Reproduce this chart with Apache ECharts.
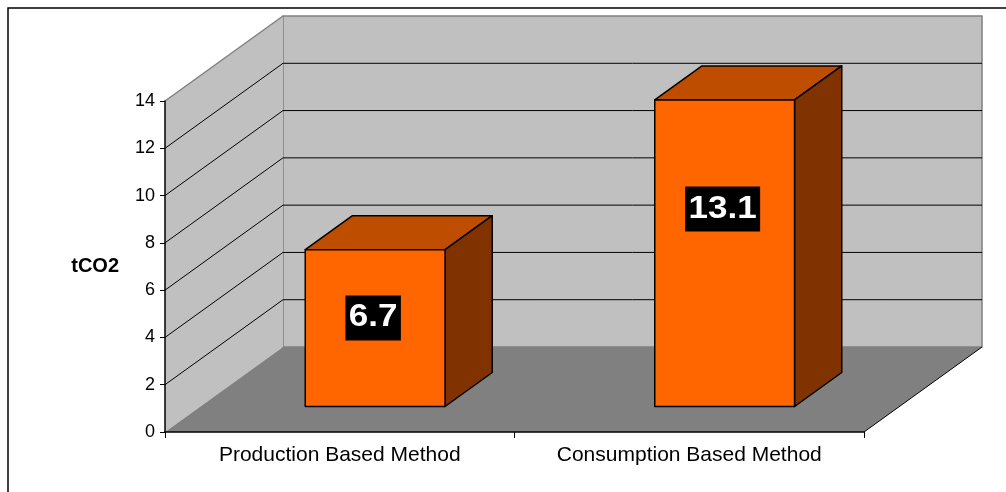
<!DOCTYPE html>
<html>
<head>
<meta charset="utf-8">
<script src="https://cdn.jsdelivr.net/npm/echarts@6/dist/echarts.min.js"></script>
<style>
  html, body { margin: 0; padding: 0; background: #ffffff; }
  #chart { width: 1006px; height: 492px; }
</style>
</head>
<body>
<div id="chart"></div>
<script>
// Emissions per method (tonnes of CO2)
const categories = ['Production Based Method', 'Consumption Based Method'];
const values = [6.7, 13.1];
const axisName = 'tCO2';
const yMin = 0;
const yMax = 14;
const yStep = 2;

// Pseudo-3D look: the back planes sit behind the front plane by this pixel offset
const DEPTH_X = 118;
const DEPTH_Y = -85;
// Bars start at 30% of the depth and are 40% deep
const BAR_FRONT = 0.3;
const BAR_DEPTH = 0.4;

const FONT = '"Liberation Sans", Arial, sans-serif';

const chart = echarts.init(document.getElementById('chart'), null, { renderer: 'canvas' });

// Side wall, back wall, floor and their gridlines
function renderWalls(params, api) {
  const cs = params.coordSys;
  const x0 = cs.x;
  const x1 = cs.x + cs.width;
  const yb = api.coord([0, yMin])[1];
  const yt = api.coord([0, yMax])[1];
  const dx = DEPTH_X, dy = DEPTH_Y;
  const children = [];

  children.push({
    type: 'rect',
    shape: { x: x0 + dx, y: yt + dy, width: x1 - x0, height: yb - yt },
    style: { fill: '#c0c0c0', stroke: '#808080', lineWidth: 1.5 }
  });
  children.push({
    type: 'polygon',
    shape: { points: [[x0, yb], [x0, yt], [x0 + dx, yt + dy], [x0 + dx, yb + dy]] },
    style: { fill: '#c0c0c0' }
  });
  children.push({
    type: 'polygon',
    shape: { points: [[x0, yb], [x1, yb], [x1 + dx, yb + dy], [x0 + dx, yb + dy]] },
    style: { fill: '#808080' }
  });
  for (let v = yMin + yStep; v < yMax; v += yStep) {
    const y = api.coord([0, v])[1];
    children.push({
      type: 'polyline',
      shape: { points: [[x0, y], [x0 + dx, y + dy], [x1 + dx, y + dy]] },
      style: { stroke: '#000000', lineWidth: 1, fill: null }
    });
  }
  children.push({
    type: 'line',
    shape: { x1: x0, y1: yt, x2: x0 + dx, y2: yt + dy },
    style: { stroke: '#808080', lineWidth: 1.5 }
  });
  children.push({
    type: 'line',
    shape: { x1: x1, y1: yb, x2: x1 + dx, y2: yb + dy },
    style: { stroke: '#000000', lineWidth: 1 }
  });
  return { type: 'group', children: children };
}

// One box per category, with its value printed on the front face
function renderBar(params, api) {
  const idx = api.value(0);
  const val = api.value(1);
  const base = api.coord([idx, yMin]);
  const top = api.coord([idx, val]);
  const band = api.size([1, 0])[0];
  const half = band * 0.2;
  const ox = BAR_FRONT * DEPTH_X, oy = BAR_FRONT * DEPTH_Y;
  const bx = BAR_DEPTH * DEPTH_X, by = BAR_DEPTH * DEPTH_Y;
  const L = base[0] - half + ox;
  const R = base[0] + half + ox;
  const B = base[1] + oy;
  const T = base[1] - (base[1] - top[1]) * 0.99 + oy;
  const edge = { stroke: '#000000', lineWidth: 1.5, lineJoin: 'round' };

  const labelY = base[1] - (base[1] - top[1]) * 0.72;
  return {
    type: 'group',
    children: [
      {
        type: 'polygon',
        shape: { points: [[L, T], [R, T], [R + bx, T + by], [L + bx, T + by]] },
        style: Object.assign({ fill: '#bf4d00' }, edge)
      },
      {
        type: 'polygon',
        shape: { points: [[R, T], [R + bx, T + by], [R + bx, B + by], [R, B]] },
        style: Object.assign({ fill: '#803300' }, edge)
      },
      {
        type: 'rect',
        shape: { x: L, y: T, width: R - L, height: B - T },
        style: Object.assign({ fill: '#ff6600' }, edge)
      },
      {
        type: 'text',
        x: (L + R) / 2 - 2,
        y: labelY,
        scaleX: 1.13,
        style: {
          text: String(val),
          font: 'bold 31px ' + FONT,
          fill: '#ffffff',
          align: 'center',
          verticalAlign: 'middle',
          backgroundColor: '#000000',
          padding: [8, 3, 6, 3]
        }
      }
    ]
  };
}

const option = {
  animation: false,
  backgroundColor: '#ffffff',
  grid: { left: 165, right: 142, top: 101, bottom: 60, containLabel: false },
  graphic: [
    {
      type: 'rect',
      shape: { x: 8, y: 8, width: 1200, height: 700 },
      style: { fill: null, stroke: '#000000', lineWidth: 1.5 },
      z: 100
    }
  ],
  xAxis: {
    type: 'category',
    data: categories,
    z: 10,
    axisLine: { show: true, lineStyle: { color: '#000000', width: 1.5 } },
    axisTick: { show: true, length: 6, alignWithLabel: false, lineStyle: { color: '#000000', width: 1 } },
    axisLabel: { color: '#000000', fontSize: 21, fontFamily: FONT, margin: 13 },
    splitLine: { show: false }
  },
  yAxis: {
    type: 'value',
    min: yMin,
    max: yMax,
    interval: yStep,
    z: 10,
    name: axisName,
    nameLocation: 'middle',
    nameRotate: 0,
    nameGap: 46,
    nameTextStyle: { color: '#000000', fontSize: 20, fontWeight: 'bold', fontFamily: FONT },
    axisLine: { show: true, lineStyle: { color: '#000000', width: 1.5 } },
    axisTick: { show: true, length: 5, lineStyle: { color: '#000000', width: 1 } },
    axisLabel: { color: '#000000', fontSize: 18, fontFamily: FONT, margin: 10 },
    splitLine: { show: false }
  },
  series: [
    {
      type: 'custom',
      name: 'walls',
      renderItem: renderWalls,
      data: [[0, yMin]],
      silent: true,
      z: 1,
      clip: false
    },
    {
      type: 'custom',
      name: 'emissions',
      renderItem: renderBar,
      data: values.map(function (v, i) { return [i, v]; }),
      encode: { x: 0, y: 1 },
      z: 3,
      clip: false
    }
  ]
};

chart.setOption(option);
</script>
</body>
</html>
